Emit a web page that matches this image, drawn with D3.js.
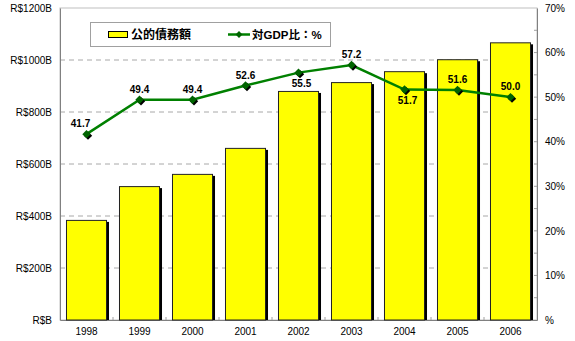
<!DOCTYPE html>
<html><head><meta charset="utf-8">
<script src="https://cdn.jsdelivr.net/npm/d3@7"></script>
<style>body{margin:0;background:#fff;}svg{display:block;font-family:"Liberation Sans",Arial,sans-serif;}</style>
</head><body>
<svg id="c" width="575" height="341"></svg>
<script>
const years = ["1998","1999","2000","2001","2002","2003","2004","2005","2006"];
const debt = [385, 515, 562, 662, 881, 915, 957, 1003, 1068];
const gdpRatio = [41.7, 49.4, 49.4, 52.6, 55.5, 57.2, 51.7, 51.6, 50.0];
const leftTicks = [0, 200, 400, 600, 800, 1000, 1200];
const leftTickLabels = ["R$B","R$200B","R$400B","R$600B","R$800B","R$1000B","R$1200B"];
const rightTicks = [0, 10, 20, 30, 40, 50, 60, 70];
const rightTickLabels = ["%","10%","20%","30%","40%","50%","60%","70%"];
const labelBelow = [false,false,false,false,true,false,true,false,false];
const legendLabels = ["公的債務額", "対GDP比：%"];

const svg = d3.select("#c");
const L = 60, R = 537, T = 8, B = 320;
const x = d3.scaleBand().domain(years).range([L, R]).paddingInner(0.226).paddingOuter(0.113);
const y = d3.scaleLinear().domain([0, 1200]).range([B, T]);
const y2 = d3.scaleLinear().domain([0, 70]).range([B, T]);

// plot area
svg.append("rect").attr("x", L).attr("y", T).attr("width", R - L).attr("height", B - T)
  .attr("fill", "#fff").attr("stroke", "#c0c0c0");

// gridlines
svg.append("g").selectAll("line").data(leftTicks.filter(d => d > 0 && d < 1200)).join("line")
  .attr("x1", L).attr("x2", R).attr("y1", d => y(d)).attr("y2", d => y(d))
  .attr("stroke", "#a8a8a8").attr("stroke-dasharray", "5,4");

// left axis
const ax = d3.axisLeft(y).tickValues(leftTicks).tickSize(0).tickPadding(8)
  .tickFormat((d, i) => leftTickLabels[i]);
const gl = svg.append("g").attr("transform", `translate(${L},0)`).call(ax);
gl.select(".domain").attr("stroke", "#808080");
gl.selectAll("text").attr("font-size", 10).attr("fill", "#000");

// right axis
const ar = d3.axisRight(y2).tickValues(rightTicks).tickSize(0).tickPadding(8)
  .tickFormat((d, i) => rightTickLabels[i]);
const gr = svg.append("g").attr("transform", `translate(${R},0)`).call(ar);
gr.select(".domain").attr("stroke", "#808080");
gr.selectAll("text").attr("font-size", 10).attr("fill", "#000");
// right minor ticks (inward)
svg.append("g").selectAll("line").data(d3.range(5, 70, 5)).join("line")
  .attr("x1", R - 3).attr("x2", R).attr("y1", d => y2(d)).attr("y2", d => y2(d))
  .attr("stroke", "#a0a0a0");

// bottom axis
const ab = d3.axisBottom(x).tickSize(0).tickPadding(8);
const gb = svg.append("g").attr("transform", `translate(0,${B})`).call(ab);
gb.select(".domain").attr("stroke", "#808080");
gb.selectAll("text").attr("font-size", 10).attr("fill", "#000");
svg.append("g").selectAll("line").data(years.slice(1)).join("line")
  .attr("x1", d => x(d) - x.step() * x.paddingInner() / 2).attr("x2", d => x(d) - x.step() * x.paddingInner() / 2)
  .attr("y1", B - 3).attr("y2", B).attr("stroke", "#a0a0a0");

// bars with shadows
const bars = svg.append("g");
bars.selectAll("rect.sh").data(years).join("rect").attr("class", "sh")
  .attr("x", d => x(d) + 2).attr("y", (d, i) => y(debt[i]) + 2)
  .attr("width", x.bandwidth()).attr("height", (d, i) => B - y(debt[i]) - 2)
  .attr("fill", "#000");
bars.selectAll("rect.b").data(years).join("rect").attr("class", "b")
  .attr("x", d => x(d) + 0.5).attr("y", (d, i) => y(debt[i]) + 0.5)
  .attr("width", x.bandwidth() - 1).attr("height", (d, i) => B - y(debt[i]) - 0.5)
  .attr("fill", "#ffff00").attr("stroke", "#222").attr("stroke-width", 1);

// line
const cx = d => x(d) + x.bandwidth() / 2;
const line = d3.line().x((d, i) => cx(years[i])).y(d => y2(d));
svg.append("path").datum(gdpRatio).attr("d", line).attr("fill", "none")
  .attr("stroke", "#008000").attr("stroke-width", 2.5);
const diamond = d3.symbol().type(d3.symbolDiamond2).size(45);
const mk = svg.append("g");
mk.selectAll("path.sh").data(gdpRatio).join("path").attr("class", "sh")
  .attr("d", diamond).attr("transform", (d, i) => `translate(${cx(years[i]) + 1.5},${y2(d) + 1.5})`)
  .attr("fill", "#000");
mk.selectAll("path.m").data(gdpRatio).join("path").attr("class", "m")
  .attr("d", diamond).attr("transform", (d, i) => `translate(${cx(years[i])},${y2(d)})`)
  .attr("fill", "#006400");

// value labels
svg.append("g").selectAll("text").data(gdpRatio).join("text")
  .attr("x", (d, i) => cx(years[i]) + (i === 0 ? -6 : 0) + (labelBelow[i] ? 3 : 0))
  .attr("y", (d, i) => y2(d) + (labelBelow[i] ? 14 : -7))
  .attr("text-anchor", "middle").attr("font-size", 10).attr("font-weight", "bold")
  .text(d => d.toFixed(1));

// legend
const lg = svg.append("g");
lg.append("rect").attr("x", 90.5).attr("y", 22.5).attr("width", 240).attr("height", 24)
  .attr("fill", "#fff").attr("stroke", "#a0a0a0");
lg.append("rect").attr("x", 108.5).attr("y", 31.5).attr("width", 19).attr("height", 6)
  .attr("fill", "#ffff00").attr("stroke", "#000");
lg.append("text").attr("x", 131).attr("y", 39).attr("font-size", 12).attr("font-weight", "bold")
  .attr("font-family", "'Noto Sans CJK JP',sans-serif").text(legendLabels[0]);
lg.append("line").attr("x1", 228).attr("x2", 250).attr("y1", 34.5).attr("y2", 34.5)
  .attr("stroke", "#008000").attr("stroke-width", 2.5);
lg.append("path").attr("d", d3.symbol().type(d3.symbolDiamond2).size(30))
  .attr("transform", "translate(239,34.5)").attr("fill", "#006400");
lg.append("text").attr("x", 252).attr("y", 39).attr("font-size", 11.5).attr("font-weight", "bold")
  .attr("font-family", "'Liberation Sans','Noto Sans CJK JP',sans-serif").text(legendLabels[1]);
</script>
</body></html>
